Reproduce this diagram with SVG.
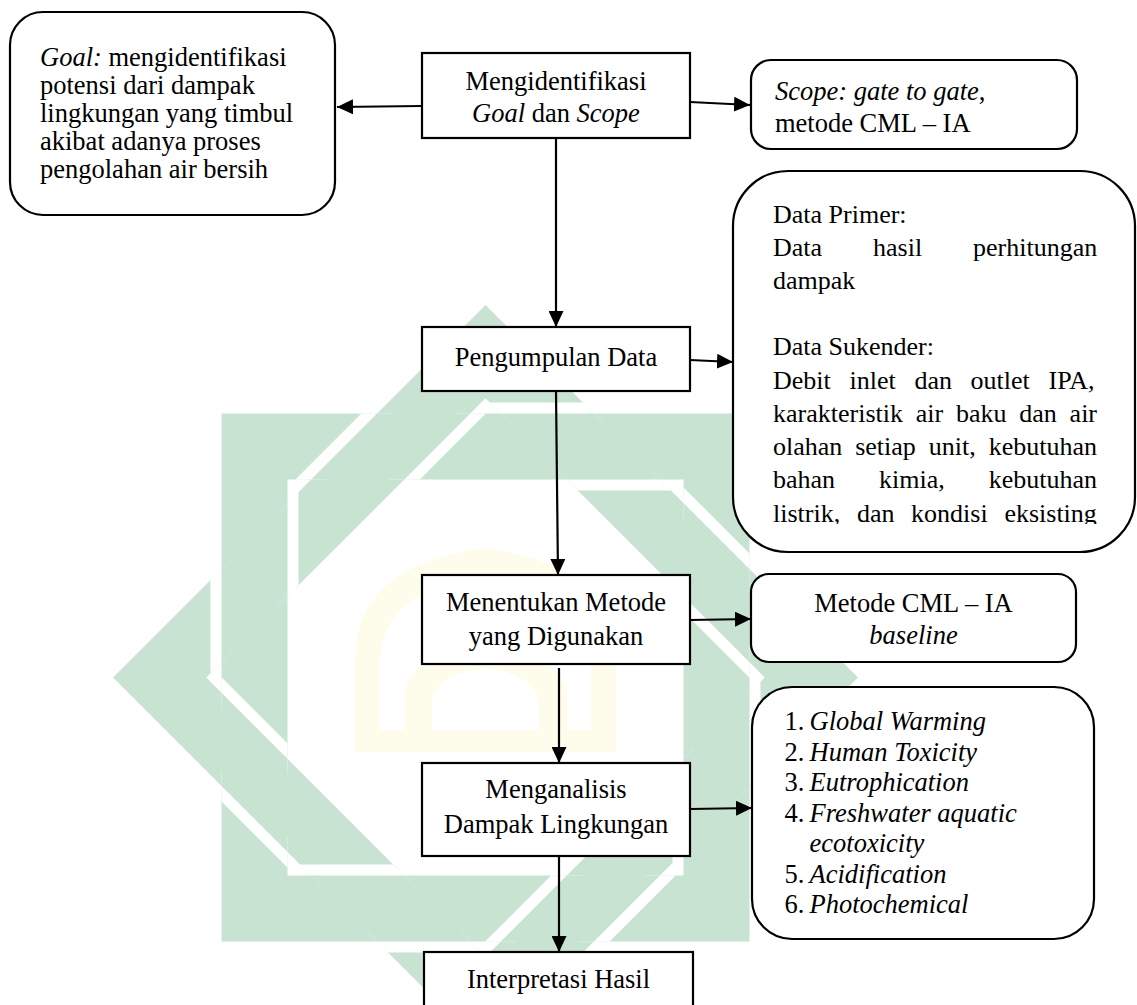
<svg xmlns="http://www.w3.org/2000/svg" width="1137" height="1005" viewBox="0 0 1137 1005">
<style>
.box{fill:#fff;stroke:#000;stroke-width:2.2}
.t{font-family:"Liberation Serif","Times New Roman",serif;font-size:26.5px;fill:#000}
.d{font-size:26px}
.c{text-anchor:middle}
.i{font-style:italic}
.wm{fill:#c9e3d3}
.over{fill:#c9e3d3;stroke:#fff;stroke-width:22;paint-order:stroke}
.dome{fill:#fefdec;fill-rule:evenodd}
.con line{stroke:#000;stroke-width:2.2;marker-end:url(#ah)}
</style>
<defs>
<marker id="ah" markerUnits="userSpaceOnUse" markerWidth="17" markerHeight="15" refX="16" refY="7.5" orient="auto">
<path d="M0,0 L16,7.5 L0,15 Z" fill="#000"/>
</marker>
<clipPath id="cTop"><rect x="221.5" y="413.5" width="528" height="66"/></clipPath>
<clipPath id="cBottom"><rect x="221.5" y="875.5" width="528" height="66"/></clipPath>
<clipPath id="cLeft"><rect x="221.5" y="413.5" width="66" height="528"/></clipPath>
<clipPath id="cRight"><rect x="683.5" y="413.5" width="66" height="528"/></clipPath>
<clipPath id="cUL"><polygon points="113,677.5 485.5,305 485.5,398.3 206.3,677.5"/></clipPath>
<clipPath id="cUR"><polygon points="485.5,305 858,677.5 764.7,677.5 485.5,398.3"/></clipPath>
<clipPath id="cLR"><polygon points="858,677.5 485.5,1050 485.5,956.7 764.7,677.5"/></clipPath>
<clipPath id="cLL"><polygon points="485.5,1050 113,677.5 206.3,677.5 485.5,956.7"/></clipPath>
<clipPath id="cData"><rect x="733" y="171" width="402" height="353"/></clipPath>
</defs>
<rect width="1137" height="1005" fill="#fff"/>

<g id="watermark">
<path class="wm" fill-rule="evenodd" d="M221.5,413.5 H749.5 V941.5 H221.5 Z M287.5,479.5 V875.5 H683.5 V479.5 Z"/>
<path class="wm" fill-rule="evenodd" d="M113,677.5 L485.5,305 L858,677.5 L485.5,1050 Z M206.3,677.5 L485.5,956.7 L764.7,677.5 L485.5,398.3 Z"/>
<g clip-path="url(#cTop)"><polygon class="over" points="113,677.5 485.5,305 485.5,398.3 206.3,677.5"/></g>
<g clip-path="url(#cLeft)"><polygon class="over" points="485.5,1050 113,677.5 206.3,677.5 485.5,956.7"/></g>
<g clip-path="url(#cBottom)"><polygon class="over" points="858,677.5 485.5,1050 485.5,956.7 764.7,677.5"/></g>
<g clip-path="url(#cRight)"><polygon class="over" points="485.5,305 858,677.5 764.7,677.5 485.5,398.3"/></g>
<g clip-path="url(#cUL)"><rect class="over" x="221.5" y="413.5" width="66" height="528"/></g>
<g clip-path="url(#cLL)"><rect class="over" x="221.5" y="875.5" width="528" height="66"/></g>
<g clip-path="url(#cLR)"><rect class="over" x="683.5" y="413.5" width="66" height="528"/></g>
<g clip-path="url(#cUR)"><rect class="over" x="221.5" y="413.5" width="528" height="66"/></g>
<path class="dome" d="M355,752 V660 Q355,565 485,548 Q616,565 616,660 V752 Z M380,730 V665 Q380,590 485,575 Q591,590 591,665 V730 Z"/>
<path class="dome" d="M404,730 V700 Q404,655 485,645 Q567,655 567,700 V730 Z M432,730 V705 Q432,675 485,668 Q539,675 539,705 V730 Z"/>
</g>

<g id="n-goal">
<rect class="box" x="10" y="12" width="325" height="203" rx="33"/>
<text class="t" x="40" y="66"><tspan class="i">Goal:</tspan> mengidentifikasi</text>
<text class="t" x="40" y="94">potensi dari dampak</text>
<text class="t" x="40" y="122">lingkungan yang timbul</text>
<text class="t" x="40" y="150">akibat adanya proses</text>
<text class="t" x="40" y="178">pengolahan air bersih</text>
</g>

<g id="n-identify">
<rect class="box" x="422" y="53" width="268" height="85"/>
<text class="t c" x="556" y="90">Mengidentifikasi</text>
<text class="t c" x="556" y="122"><tspan class="i">Goal</tspan> dan <tspan class="i">Scope</tspan></text>
</g>

<g id="n-scope">
<rect class="box" x="751" y="60" width="326" height="89" rx="20"/>
<text class="t" x="775" y="100"><tspan class="i">Scope: gate to gate</tspan>,</text>
<text class="t" x="775" y="132">metode CML – IA</text>
</g>

<g id="n-collect">
<rect class="box" x="422" y="327" width="268" height="64"/>
<text class="t c" x="556" y="366">Pengumpulan Data</text>
</g>

<g id="n-data">
<rect class="box" x="733" y="171" width="402" height="381" rx="55"/>
<g clip-path="url(#cData)">
<text class="t d" x="773" y="223">Data Primer:</text>
<text class="t d" y="256"><tspan x="773">Data</tspan><tspan x="873">hasil</tspan><tspan x="973">perhitungan</tspan></text>
<text class="t d" x="773" y="289">dampak</text>
<text class="t d" x="773" y="355">Data Sukender:</text>
<text class="t d" y="389"><tspan x="773">Debit</tspan><tspan x="849.5">inlet</tspan><tspan x="914.4">dan</tspan><tspan x="970.6">outlet</tspan><tspan x="1048.5">IPA,</tspan></text>
<text class="t d" y="422"><tspan x="773">karakteristik</tspan><tspan x="915.8">air</tspan><tspan x="956">baku</tspan><tspan x="1019.3">dan</tspan><tspan x="1069.6">air</tspan></text>
<text class="t d" y="455"><tspan x="773">olahan</tspan><tspan x="855.2">setiap</tspan><tspan x="928.8">unit,</tspan><tspan x="988.7">kebutuhan</tspan></text>
<text class="t d" y="488"><tspan x="773">bahan</tspan><tspan x="879.1">kimia,</tspan><tspan x="988.7">kebutuhan</tspan></text>
<text class="t d" y="522"><tspan x="773">listrik,</tspan><tspan x="856.9">dan</tspan><tspan x="911.1">kondisi</tspan><tspan x="1004.4">eksisting</tspan></text>
</g>
</g>

<g id="n-method">
<rect class="box" x="422" y="575" width="268" height="89"/>
<text class="t c" x="556" y="611">Menentukan Metode</text>
<text class="t c" x="556" y="645">yang Digunakan</text>
</g>

<g id="n-cml">
<rect class="box" x="751" y="574" width="325" height="88" rx="18"/>
<text class="t c" x="913.5" y="612">Metode CML – IA</text>
<text class="t c i" x="913.5" y="644">baseline</text>
</g>

<g id="n-analyze">
<rect class="box" x="422" y="763" width="268" height="93"/>
<text class="t c" x="556" y="798">Menganalisis</text>
<text class="t c" x="556" y="833">Dampak Lingkungan</text>
</g>

<g id="n-impacts">
<rect class="box" x="752" y="687" width="342" height="252" rx="40"/>
<text class="t" x="784.5" y="730">1.</text><text class="t i" x="809.5" y="730">Global Warming</text>
<text class="t" x="784.5" y="760.5">2.</text><text class="t i" x="809.5" y="760.5">Human Toxicity</text>
<text class="t" x="784.5" y="791">3.</text><text class="t i" x="809.5" y="791">Eutrophication</text>
<text class="t" x="784.5" y="821.5">4.</text><text class="t i" x="809.5" y="821.5">Freshwater aquatic</text>
<text class="t i" x="809.5" y="852">ecotoxicity</text>
<text class="t" x="784.5" y="882.5">5.</text><text class="t i" x="809.5" y="882.5">Acidification</text>
<text class="t" x="784.5" y="913">6.</text><text class="t i" x="809.5" y="913">Photochemical</text>
</g>

<g id="n-interpret">
<rect class="box" x="424" y="952" width="269" height="70"/>
<text class="t c" x="558.5" y="988">Interpretasi Hasil</text>
</g>

<g id="connectors" class="con">
<line x1="422" y1="106" x2="337" y2="107"/>
<line x1="690" y1="102" x2="750" y2="105"/>
<line x1="556" y1="138" x2="556" y2="327"/>
<line x1="690" y1="360" x2="733" y2="362"/>
<line x1="556" y1="391" x2="558" y2="575"/>
<line x1="690" y1="620" x2="751" y2="619"/>
<line x1="559" y1="668" x2="559" y2="763"/>
<line x1="690" y1="809" x2="752" y2="808"/>
<line x1="559" y1="856" x2="559" y2="952"/>
</g>
</svg>
